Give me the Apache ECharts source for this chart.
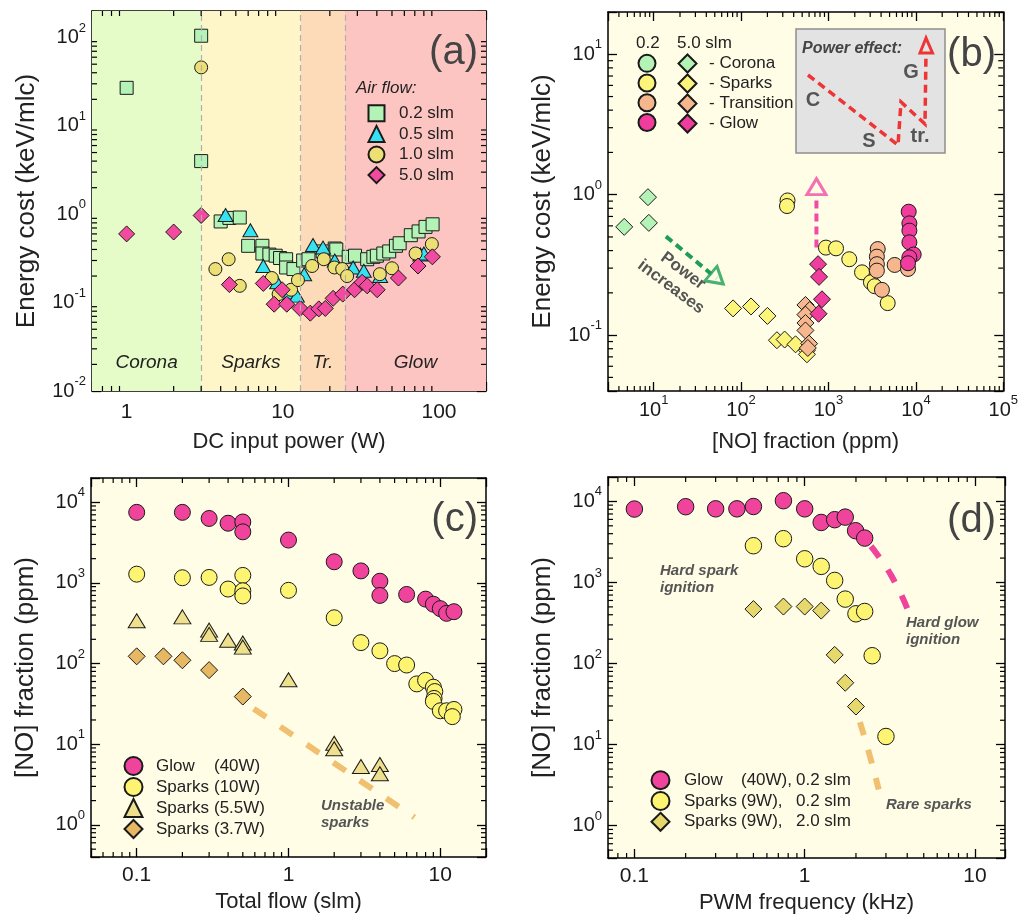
<!DOCTYPE html>
<html><head><meta charset="utf-8">
<script src="https://cdn.jsdelivr.net/npm/echarts@6/dist/echarts.min.js"></script>
<style>html,body{margin:0;padding:0;background:#fff}#c{width:1021px;height:919px}</style>
</head><body><div id="c"></div>
<script>
// ---------------- DATA ----------------
// Panel (a): energy cost vs DC input power
const aSquares02 = [[1,27],[3,105],[3,4.0],[4.0,0.83],[4.55,0.91],[5.3,0.92],[6.0,0.44],[7.4,0.44],[7.4,0.36],[8.2,0.35],[9.0,0.34],[9.6,0.32],[10.5,0.31],[10.5,0.25],[11.7,0.24],[13.5,0.3],[14.6,0.31],[18,0.38],[21.5,0.41],[22,0.40],[26.4,0.33],[29,0.34],[34.7,0.31],[38,0.33],[40,0.34],[44,0.36],[48,0.38],[53,0.44],[56,0.47],[66,0.58],[74,0.64],[82,0.72],[91,0.77]];
const aTriangles05 = [[4.3,0.98],[6.2,0.66],[7.5,0.26],[9.2,0.17],[11,0.13],[12.3,0.12],[13.7,0.21],[15.6,0.45],[18.1,0.42],[21.5,0.3],[28.2,0.25],[33,0.23],[42,0.2],[76,0.35],[80,0.36]];
const aCircles10 = [[3,46],[3.7,0.24],[4.5,0.31],[5.3,0.155],[8.5,0.19],[9.4,0.125],[11.3,0.14],[12.5,0.18],[15.4,0.26],[18.3,0.31],[21.4,0.25],[24,0.24],[25.8,0.2],[41.8,0.21],[50,0.245],[70.8,0.36],[90,0.46]];
const aDiamonds50 = [[1,0.6],[2,0.63],[3,0.97],[4.55,0.16],[7.5,0.165],[8.8,0.096],[9.9,0.14],[10.6,0.096],[12.9,0.086],[15,0.076],[17,0.085],[18.7,0.086],[21,0.112],[24.2,0.125],[28.8,0.14],[32.2,0.17],[34.7,0.155],[40.2,0.14],[55,0.19],[73.4,0.26],[90.7,0.33]];
const aRegionBounds = [0.6, 3, 13, 25, 200];
const aRegionNames = ['Corona', 'Sparks', 'Tr.', 'Glow'];

// Panel (b): energy cost vs NO fraction
const bCorona02 = [];
const bCorona50 = [[4.6,0.59],[8.6,0.96],[8.8,0.63]];
const bSparks50 = [[81,0.155],[130,0.16],[200,0.137],[257,0.092],[315,0.093],[420,0.086],[567,0.078],[567,0.073]];
const bTransition50 = [[545,0.164],[610,0.151],[545,0.14],[545,0.122],[545,0.108],[600,0.087],[580,0.081]];
const bGlow50 = [[760,0.32],[780,0.26],[843,0.18],[770,0.142]];
const bSparks02 = [[340,0.91],[335,0.83],[935,0.42],[1220,0.415],[1730,0.347],[2420,0.28],[3060,0.238],[3380,0.223],[4760,0.169]];
const bTransition02 = [[3660,0.41],[3580,0.362],[3580,0.32],[3580,0.288],[4090,0.21],[5720,0.316],[8130,0.296]];
const bGlow02 = [[8280,0.757],[8430,0.625],[8430,0.555],[8430,0.458],[9440,0.375],[8430,0.358],[8130,0.325]];
const bGreenArrow = [[13.8,0.505],[53,0.252]];
const bPinkArrow = [[728,0.42],[728,0.96]];
const bPinkHead = [[728,1.14]];

// Panel (c): NO fraction vs total flow
const cGlow40 = [[0.1,7500],[0.2,7500],[0.3,6300],[0.4,5500],[0.5,5700],[0.5,4300],[1.0,3400],[2.0,1830],[3.0,1410],[4.0,1050],[4.0,700],[6.0,720],[8.0,630],[9.0,545],[10,480],[11,420],[12.3,440]];
const cSparks10 = [[0.1,1285],[0.2,1160],[0.3,1170],[0.4,840],[0.5,1240],[0.5,800],[0.5,690],[1.0,810],[2.0,370],[3.0,182],[4.0,144],[5.0,100],[6.0,96],[7.0,56],[8.0,62],[9.0,51],[9.2,45],[9.1,37],[9.0,34],[10,26],[11,26],[12.3,27],[12,22]];
const cSparks55 = [[0.1,340],[0.2,380],[0.3,260],[0.3,230],[0.4,195],[0.5,180],[0.5,160],[1.0,63],[2.0,10.3],[2.0,8.8],[3.0,5.3],[4.0,5.6],[4.0,4.3]];
const cSparks37 = [[0.1,123],[0.15,123],[0.2,110],[0.3,83],[0.5,39]];
const cUnstableLine = [[0.59,27.6],[6.75,1.24]];

// Panel (d): NO fraction vs PWM frequency
const dGlow40 = [[0.1,8050],[0.2,8600],[0.3,8100],[0.4,8100],[0.5,8650],[0.75,10200],[1.0,8100],[1.25,5500],[1.5,5950],[1.73,6400],[1.99,4350],[2.25,3530]];
const dSparks9a = [[0.5,2840],[0.75,3470],[1.0,1960],[1.25,1580],[1.5,1060],[1.73,624],[2.0,411],[2.25,439],[2.49,125],[3.0,12.6]];
const dSparks9b = [[0.5,470],[0.75,505],[1.0,505],[1.25,450],[1.5,128],[1.73,58],[2.0,29.5]];
const dGlowTrend = [[2.45,2800],[3.2,1250],[4.0,480]];
const dSparkTrend = [[2.11,19],[2.42,7.1],[2.72,2.8]];

// ---------------- HELPERS ----------------
const FONT = "'Liberation Sans', Arial, sans-serif";
const INK = '#1a1a1a';
const BG = '#fffde6';
function isPow10(v){ const l = Math.log10(v); return Math.abs(l - Math.round(l)) < 1e-6; }
const supFmt = v => isPow10(v) ? '{b|10}{s|' + Math.round(Math.log10(v)) + '}' : '';
const plainFmt = v => isPow10(v) ? String(+(+v).toPrecision(6)) : '';
const supRich = {
  b: {fontSize: 20, lineHeight: 32, verticalAlign: 'middle', fontFamily: FONT, color: INK},
  s: {fontSize: 13, lineHeight: 14, verticalAlign: 'top', fontFamily: FONT, color: INK}
};
const xAxes = [], yAxes = [];
function axisBase(g){
  return {type: 'log', logBase: 10, gridIndex: g, splitLine: {show: false},
    axisLine: {show: true, lineStyle: {color: '#000', width: 1.5}},
    axisTick: {show: true, inside: true, length: 9, lineStyle: {color: '#000', width: 1.3}}};
}
function addAxes(g, o){
  xAxes.push(Object.assign(axisBase(g), {min: o.xmin, max: o.xmax, splitNumber: o.xsplit, position: 'bottom',
    axisLabel: {formatter: o.xsup ? supFmt : plainFmt, rich: supRich, fontSize: 21, color: INK, margin: o.xmargin, fontFamily: FONT},
    name: o.xname, nameLocation: 'middle', nameGap: o.xgap,
    nameTextStyle: {fontSize: 22, color: '#222', fontFamily: FONT}}));
  xAxes.push(Object.assign(axisBase(g), {min: o.xmin, max: o.xmax, splitNumber: o.xsplit, position: 'top', axisLabel: {show: false}}));
  yAxes.push(Object.assign(axisBase(g), {min: o.ymin, max: o.ymax, splitNumber: o.ysplit, position: 'left',
    axisLabel: {formatter: supFmt, rich: supRich, margin: 6},
    name: o.yname, nameLocation: 'middle', nameGap: o.ygap, nameRotate: 90,
    nameTextStyle: {fontSize: 26, color: '#222', fontFamily: FONT}}));
  yAxes.push(Object.assign(axisBase(g), {min: o.ymin, max: o.ymax, splitNumber: o.ysplit, position: 'right', axisLabel: {show: false}}));
}
function minorList(lo, hi){
  const out = [];
  for (let e = Math.floor(Math.log10(lo)) - 1; e <= Math.ceil(Math.log10(hi)); e++)
    for (let m = 2; m <= 9; m++){ const v = m * Math.pow(10, e); if (v > lo * 1.0001 && v < hi * 0.9999) out.push(v); }
  return out;
}
function minorTickSeries(g, o){
  const st = {stroke: '#000', lineWidth: 1.2};
  const L = 5;
  return [{
    type: 'custom', xAxisIndex: 2*g, yAxisIndex: 2*g, silent: true, clip: false, z: 10,
    data: minorList(o.xmin, o.xmax).map(v => [v, o.ymin]),
    renderItem: (p, api) => { const v = api.value(0); const b = api.coord([v, o.ymin]); const t = api.coord([v, o.ymax]);
      return {type: 'group', children: [
        {type: 'line', shape: {x1: b[0], y1: b[1], x2: b[0], y2: b[1] - L}, style: st},
        {type: 'line', shape: {x1: t[0], y1: t[1], x2: t[0], y2: t[1] + L}, style: st}]}; }
  }, {
    type: 'custom', xAxisIndex: 2*g, yAxisIndex: 2*g, silent: true, clip: false, z: 10,
    data: minorList(o.ymin, o.ymax).map(v => [o.xmin, v]),
    renderItem: (p, api) => { const v = api.value(1); const l = api.coord([o.xmin, v]); const r = api.coord([o.xmax, v]);
      return {type: 'group', children: [
        {type: 'line', shape: {x1: l[0], y1: l[1], x2: l[0] + L, y2: l[1]}, style: st},
        {type: 'line', shape: {x1: r[0], y1: r[1], x2: r[0] - L, y2: r[1]}, style: st}]}; }
  }];
}
function sc(name, g, data, symbol, size, color, extra){
  return Object.assign({type: 'scatter', name: name, xAxisIndex: 2*g, yAxisIndex: 2*g, data: data,
    symbol: symbol, symbolSize: size, z: 3,
    itemStyle: {color: color, borderColor: INK, borderWidth: 1, opacity: 1},
    emphasis: {disabled: true}}, extra || {});
}
function dashLine(g, data, color, width, dash, smooth){
  return {type: 'line', xAxisIndex: 2*g, yAxisIndex: 2*g, data: data, symbol: 'none', silent: true, z: 2,
    smooth: !!smooth, lineStyle: {color: color, width: width, type: dash, cap: 'butt'}};
}

// ---------------- AXES ----------------
const ax = [
  {xmin: 0.6, xmax: 200, ymin: 0.01, ymax: 200, xsplit: 3, ysplit: 5, xsup: false, xmargin: 11,
   xname: 'DC input power (W)', xgap: 40, yname: 'Energy cost (keV/mlc)', ygap: 52},
  {xmin: 3, xmax: 1e5, ymin: 0.04, ymax: 20, xsplit: 5, ysplit: 5, xsup: true, xmargin: 3,
   xname: '[NO] fraction (ppm)', xgap: 40, yname: 'Energy cost (keV/mlc)', ygap: 52},
  {xmin: 0.05, xmax: 20, ymin: 0.4, ymax: 2e4, xsplit: 3, ysplit: 5, xsup: false, xmargin: 8,
   xname: 'Total flow (slm)', xgap: 34, yname: '[NO] fraction (ppm)', ygap: 52},
  {xmin: 0.07, xmax: 15, ymin: 0.4, ymax: 2e4, xsplit: 3, ysplit: 5, xsup: false, xmargin: 8,
   xname: 'PWM frequency (kHz)', xgap: 34, yname: '[NO] fraction (ppm)', ygap: 52}
];
ax.forEach((o, g) => addAxes(g, o));

// ---------------- SERIES ----------------
const series = [];
// (a)
series.push(sc('0.2 slm', 0, aSquares02, 'rect', 13, '#b4f3b6', {
  markArea: {silent: true,
    label: {show: true, position: 'insideBottom', distance: 19, fontStyle: 'italic', fontSize: 19, color: '#222', fontFamily: FONT},
    data: aRegionNames.map((n, i) => [{name: n, xAxis: aRegionBounds[i], itemStyle: {color: ['#e6fcc8', '#fef6c8', '#fddbb8', '#fdc5c2'][i]}}, {xAxis: aRegionBounds[i+1]}])},
  markLine: {silent: true, symbol: 'none', label: {show: false},
    lineStyle: {color: '#b0b0b0', type: [6, 4], width: 1.2},
    data: aRegionBounds.slice(1, 4).map(v => ({xAxis: v}))}
}));
series.push(sc('0.5 slm', 0, aTriangles05, 'triangle', [15, 13], '#35e2f2'));
series.push(sc('1.0 slm', 0, aCircles10, 'circle', 13, '#ecdf74'));
series.push(sc('5.0 slm', 0, aDiamonds50, 'diamond', 16, '#f14a9f'));
// (b)
series.push(dashLine(1, bGreenArrow, '#1e9e55', 4, [8, 5]));
series.push(dashLine(1, bPinkArrow, '#f04ca6', 4, [8, 5]));
series.push(sc('arrowG', 1, [bGreenArrow[1]], 'triangle', [19, 16], BG, {symbolRotate: -130, itemStyle: {color: BG, borderColor: '#1e9e55', borderWidth: 3}}));
series.push(sc('arrowP', 1, bPinkHead, 'triangle', [19, 16], BG, {itemStyle: {color: BG, borderColor: '#f04ca6', borderWidth: 3}}));
series.push(sc('0.2 Corona', 1, bCorona02, 'circle', 15, '#b4f3b6'));
series.push(sc('5.0 Corona', 1, bCorona50, 'diamond', 17, '#b4f3b6'));
series.push(sc('5.0 Sparks', 1, bSparks50, 'diamond', 17, '#fdf47a'));
series.push(sc('5.0 Transition', 1, bTransition50, 'diamond', 17, '#f7b78e'));
series.push(sc('5.0 Glow', 1, bGlow50, 'diamond', 17, '#f03c9c'));
series.push(sc('0.2 Sparks', 1, bSparks02, 'circle', 15, '#fdf47a'));
series.push(sc('0.2 Transition', 1, bTransition02, 'circle', 15, '#f7b78e'));
series.push(sc('0.2 Glow', 1, bGlow02, 'circle', 15, '#f03c9c'));
// (c)
series.push(dashLine(2, cUnstableLine, '#f0c070', 6, [15, 17]));
series.push(sc('Glow (40W)', 2, cGlow40, 'circle', 16, '#f0449c'));
series.push(sc('Sparks (10W)', 2, cSparks10, 'circle', 16, '#fdf572'));
series.push(sc('Sparks (5.5W)', 2, cSparks55, 'triangle', [17, 14], '#eee08c'));
series.push(sc('Sparks (3.7W)', 2, cSparks37, 'diamond', 17, '#e6b864'));
// (d)
series.push(dashLine(3, dGlowTrend, '#f0449c', 6, [14, 15], true));
series.push(dashLine(3, dSparkTrend, '#f0c070', 6, [14, 15], true));
series.push(sc('Glow (40W), 0.2 slm', 3, dGlow40, 'circle', 16.5, '#f0449c'));
series.push(sc('Sparks (9W), 0.2 slm', 3, dSparks9a, 'circle', 16.5, '#fdf572'));
series.push(sc('Sparks (9W), 2.0 slm', 3, dSparks9b, 'diamond', 17, '#e6d86c'));
// minor ticks
ax.forEach((o, g) => minorTickSeries(g, o).forEach(s => series.push(s)));

// ---------------- LEGENDS ----------------
const legendText = {fontFamily: FONT, fontSize: 17, color: '#222'};
const legends = [
  {data: ['0.2 slm', '0.5 slm', '1.0 slm', '5.0 slm'], orient: 'vertical', left: 367.5, top: 103, padding: 0,
   itemWidth: 16, itemHeight: 16, itemGap: 0, selectedMode: false,
   textStyle: Object.assign({lineHeight: 20.6, padding: [0, 0, 0, 9.5]}, legendText)},
  {data: ['0.2 Corona', '0.2 Sparks', '0.2 Transition', '0.2 Glow'], orient: 'vertical', left: 637.5, top: 53.5, padding: 0,
   itemWidth: 17, itemHeight: 17, itemGap: 0, selectedMode: false, formatter: () => ' ',
   textStyle: Object.assign({lineHeight: 19.7}, legendText)},
  {data: ['5.0 Corona', '5.0 Sparks', '5.0 Transition', '5.0 Glow'], orient: 'vertical', left: 677.5, top: 53.5, padding: 0,
   itemWidth: 18, itemHeight: 18, itemGap: 0, selectedMode: false, formatter: n => '- ' + n.split(' ')[1],
   textStyle: Object.assign({lineHeight: 19.7, padding: [0, 0, 0, 7.5]}, legendText)},
  {data: ['Glow (40W)', 'Sparks (10W)', 'Sparks (5.5W)', 'Sparks (3.7W)'], orient: 'vertical', left: 123.5, top: 755.5, padding: 0,
   itemWidth: 18, itemHeight: 18, itemGap: 0, selectedMode: false,
   formatter: n => { const i = n.indexOf(' ('); return '{a|' + n.slice(0, i) + '}{b|' + n.slice(i + 1) + '}'; },
   textStyle: Object.assign({lineHeight: 21, padding: [0, 0, 0, 8.5],
     rich: {a: Object.assign({width: 58, lineHeight: 21}, legendText), b: Object.assign({lineHeight: 21}, legendText)}}, legendText)},
  {data: ['Glow (40W), 0.2 slm', 'Sparks (9W), 0.2 slm', 'Sparks (9W), 2.0 slm'], orient: 'vertical', left: 650.5, top: 769.8, padding: 0,
   itemWidth: 18, itemHeight: 18, itemGap: 0, selectedMode: false,
   formatter: n => { const i = n.indexOf(' ('); const j = n.indexOf(', '); return '{a|' + n.slice(0, i) + '}{b|' + n.slice(i + 1, j + 1) + '}{c|' + n.slice(j + 2) + '}'; },
   textStyle: Object.assign({lineHeight: 20.8, padding: [0, 0, 0, 9.5],
     rich: {a: Object.assign({width: 57, lineHeight: 20.8}, legendText), b: Object.assign({width: 55, lineHeight: 20.8}, legendText), c: Object.assign({lineHeight: 20.8}, legendText)}}, legendText)}
];

// ---------------- ANNOTATIONS ----------------
const noteStyle = {fill: '#555', font: "italic bold 15px " + FONT};
const graphic = [
  {type: 'text', left: 356, top: 80, style: {text: 'Air flow:', fill: '#222', font: "italic 17px " + FONT}, z: 20},
  {type: 'text', left: 636, top: 35, style: {text: '0.2', fill: '#222', font: "17px " + FONT}, z: 20},
  {type: 'text', left: 677, top: 35, style: {text: '5.0 slm', fill: '#222', font: "17px " + FONT}, z: 20},
  {type: 'group', z: 20, children: [
    {type: 'rect', shape: {x: 796, y: 29, width: 149, height: 124}, style: {fill: '#e3e3e3', stroke: '#8f8f8f', lineWidth: 1.5}},
    {type: 'text', x: 802, y: 49, style: {text: 'Power effect:', fill: '#444', font: "italic bold 16px " + FONT, verticalAlign: 'middle'}},
    {type: 'polyline', shape: {points: [[808, 75], [898, 145], [901, 102], [925, 124], [926, 53]]},
     style: {stroke: '#ee3434', lineWidth: 3.5, lineDash: [8, 5], fill: null}},
    {type: 'polygon', shape: {points: [[926, 38], [920, 53], [932.5, 53]]}, style: {stroke: '#ee3434', lineWidth: 3, fill: '#e3e3e3'}},
    {type: 'text', x: 813, y: 100, style: {text: 'C', fill: '#555', font: "bold 20px " + FONT, align: 'center', verticalAlign: 'middle'}},
    {type: 'text', x: 869, y: 141, style: {text: 'S', fill: '#555', font: "bold 20px " + FONT, align: 'center', verticalAlign: 'middle'}},
    {type: 'text', x: 920, y: 136, style: {text: 'tr.', fill: '#555', font: "bold 20px " + FONT, align: 'center', verticalAlign: 'middle'}},
    {type: 'text', x: 911, y: 72, style: {text: 'G', fill: '#555', font: "bold 20px " + FONT, align: 'center', verticalAlign: 'middle'}}
  ]},
  {type: 'text', x: 677, y: 279, rotation: -0.64, z: 20,
   style: {text: 'Power\nincreases', fill: '#555', font: "bold 17px " + FONT, align: 'center', verticalAlign: 'middle', lineHeight: 20}},
  {type: 'text', left: 321, top: 798, z: 20, style: Object.assign({text: 'Unstable\nsparks', lineHeight: 16.5}, noteStyle)},
  {type: 'text', left: 660, top: 563, z: 20, style: Object.assign({text: 'Hard spark\nignition', lineHeight: 16.5}, noteStyle)},
  {type: 'text', left: 906, top: 615, z: 20, style: Object.assign({text: 'Hard glow\nignition', lineHeight: 16.5}, noteStyle)},
  {type: 'text', left: 886, top: 797, z: 20, style: Object.assign({text: 'Rare sparks', lineHeight: 16.5}, noteStyle)}
];

const titleStyle = {fontSize: 40, color: '#444', fontWeight: 'normal', fontFamily: FONT};
const option = {
  animation: false,
  textStyle: {fontFamily: FONT},
  title: [
    {text: '(a)', right: 543, top: 33, padding: 0, textStyle: titleStyle},
    {text: '(b)', right: 25, top: 35, padding: 0, textStyle: titleStyle},
    {text: '(c)', right: 543, top: 500, padding: 0, textStyle: titleStyle},
    {text: '(d)', right: 25, top: 501, padding: 0, textStyle: titleStyle}
  ],
  grid: [
    {left: 92, top: 11, width: 394, height: 380, show: true, backgroundColor: BG, borderWidth: 0},
    {left: 608, top: 12, width: 396, height: 379, show: true, backgroundColor: BG, borderWidth: 0},
    {left: 91, top: 478, width: 395, height: 379, show: true, backgroundColor: BG, borderWidth: 0},
    {left: 608, top: 477, width: 397, height: 381, show: true, backgroundColor: BG, borderWidth: 0}
  ],
  xAxis: xAxes, yAxis: yAxes,
  legend: legends,
  series: series,
  graphic: graphic
};
const chart = echarts.init(document.getElementById('c'), null, {renderer: 'canvas'});
chart.setOption(option);
</script></body></html>
